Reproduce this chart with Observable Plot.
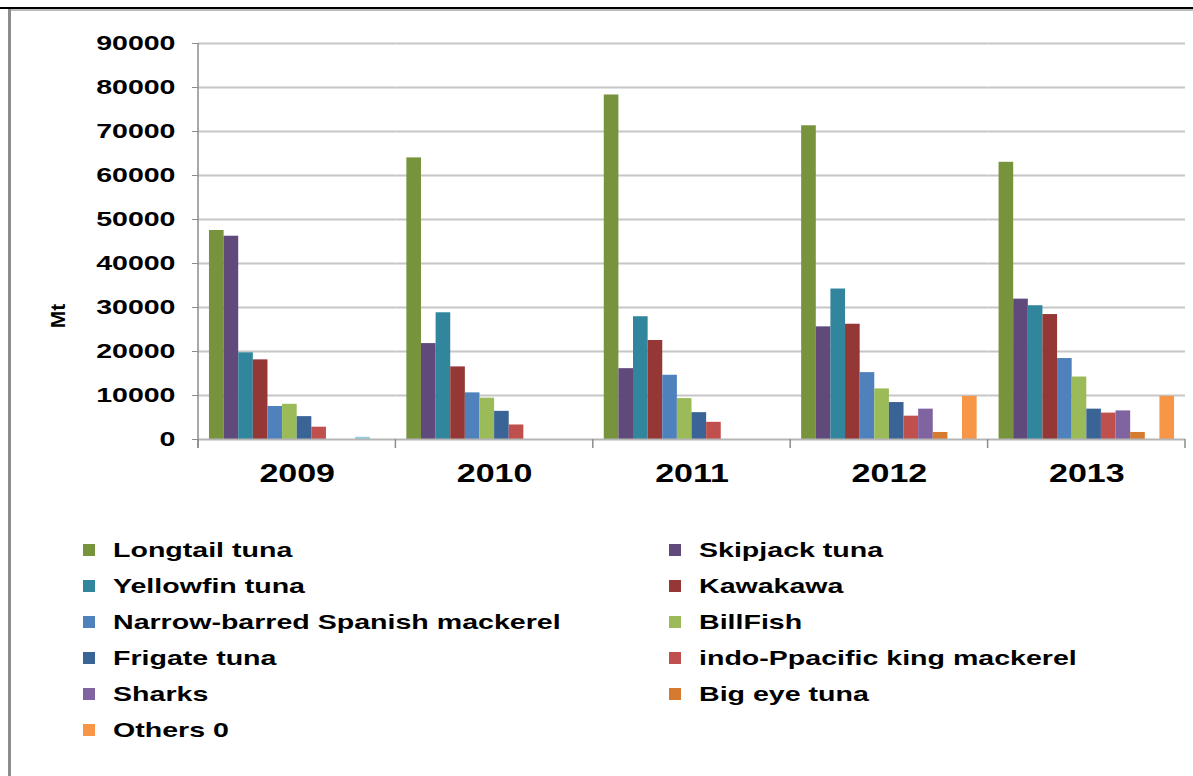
<!DOCTYPE html>
<html>
<head>
<meta charset="utf-8">
<script src="https://cdn.jsdelivr.net/npm/d3@7"></script>
<script src="https://cdn.jsdelivr.net/npm/@observablehq/plot@0.6"></script>
<style>
  html, body { margin: 0; padding: 0; background: #fff; }
  body { width: 1193px; height: 776px; overflow: hidden; position: relative;
         font-family: "Liberation Sans", Arial, sans-serif; }
  #chart { position: absolute; left: 0; top: 0; }
  .edge-top { position: absolute; left: 0; top: 7px; width: 1193px; height: 2px; background: #000; }
  .edge-shadow { position: absolute; left: 9px; top: 9px; width: 1184px; height: 2px; background: #bdbdbd; }
  .edge-left { position: absolute; left: 8px; top: 9px; width: 3px; height: 767px; background: #8c8c8c; }
  #legend { position: absolute; left: 83px; top: 532px; display: grid;
            grid-template-columns: 586px 420px; grid-auto-rows: 36px; }
  .item { display: flex; align-items: center; height: 36px; }
  .swatch { width: 12px; height: 12px; margin-right: 18px; flex: none; }
  .name { display: inline-block; font-weight: bold; font-size: 21px; color: #000;
          transform: scaleX(1.36); transform-origin: left center; white-space: nowrap; }
</style>
</head>
<body>
<div class="edge-top"></div>
<div class="edge-shadow"></div>
<div class="edge-left"></div>
<div id="chart"></div>
<div id="legend"></div>
<script>
// Catch by species and year (Mt)
const years = ["2009", "2010", "2011", "2012", "2013"];
const species = [
  "Longtail tuna", "Skipjack tuna", "Yellowfin tuna", "Kawakawa",
  "Narrow-barred Spanish mackerel", "BillFish", "Frigate tuna",
  "indo-Ppacific king mackerel", "Sharks", "Big eye tuna", "Unlisted", "Others 0"
];
const colors = [
  "#77933c", "#604a7b", "#31859c", "#953735",
  "#4f81bd", "#9bbb59", "#3b6496",
  "#c0504d", "#8064a2", "#d67a30", "#93cddd", "#f79646"
];
const longtailTuna   = [47500, 64000, 78300, 71300, 63000];
const skipjackTuna   = [46200, 21800, 16100, 25600, 31900];
const yellowfinTuna  = [19700, 28800, 27900, 34200, 30400];
const kawakawa       = [18100, 16500, 22500, 26200, 28400];
const spanishMackerel = [7500, 10600, 14600, 15200, 18400];
const billFish       = [8000, 9400, 9300, 11500, 14200];
const frigateTuna    = [5200, 6400, 6100, 8400, 6900];
const kingMackerel   = [2800, 3300, 3900, 5300, 6000];
const sharks         = [0, 0, 0, 6900, 6500];
const bigEyeTuna     = [0, 0, 0, 1600, 1600];
const unlisted       = [500, 0, 0, 0, 0];
const others         = [0, 0, 0, 9800, 9800];
const yTicks = [0, 10000, 20000, 30000, 40000, 50000, 60000, 70000, 80000, 90000];
// legend shows every named series, row by row in two columns
const legendOrder = species.filter(s => s !== "Unlisted");

const seriesValues = [
  longtailTuna, skipjackTuna, yellowfinTuna, kawakawa, spanishMackerel, billFish,
  frigateTuna, kingMackerel, sharks, bigEyeTuna, unlisted, others
];
const rows = [];
species.forEach((s, i) => years.forEach((y, j) => {
  const v = seriesValues[i][j];
  if (v > 0) rows.push({species: s, year: y, value: v});
}));

const font = "'Liberation Sans', Arial, sans-serif";
const plot = Plot.plot({
  width: 1193,
  height: 500,
  marginLeft: 198,
  marginRight: 8,
  marginTop: 43,
  marginBottom: 61,
  style: {fontFamily: font, background: "transparent", overflow: "visible", color: "#000"},
  fx: {domain: years, padding: 0, round: false, label: null},
  x: {domain: species, paddingInner: 0, paddingOuter: 0.75, round: false, axis: null},
  y: {domain: [0, 90000], label: null},
  color: {domain: species, range: colors},
  marks: [
    Plot.gridY(yTicks.filter(d => d > 0), {stroke: "#c6c6c6", strokeOpacity: 1, strokeWidth: 2}),
    Plot.barY(rows, {fx: "year", x: "species", y: "value", fill: "species", inset: 0}),
    Plot.ruleY([0], {stroke: "#b5b5b5", strokeWidth: 2}),
    Plot.axisY(yTicks, {
      tickSize: 6, tickPadding: 17, stroke: "#8c8c8c", fontSize: 21, fontWeight: "bold",
      tickFormat: d => String(d), label: null
    }),
    Plot.axisFx({anchor: "bottom", tickSize: 0, tickPadding: 25, fontSize: 25, fontWeight: "bold", label: null})
  ]
});
document.getElementById("chart").appendChild(plot);

// wide label glyphs: stretch each label about its own anchor point
const svg = d3.select(plot);
svg.selectAll('[aria-label="y-axis tick label"] text, [aria-label="fx-axis tick label"] text')
  .attr("transform", function() {
    const t = this.getAttribute("transform") || "";
    return `${t} scale(1.36,1)`;
  });

// category separators and the vertical value axis
const fx = plot.scale("fx");
const y = plot.scale("y");
const yTop = y.apply(90000), yBase = y.apply(0);
const edges = years.map(d => fx.apply(d)).concat([fx.apply(years[years.length - 1]) + fx.bandwidth]);
const g = svg.append("g").attr("stroke", "#8c8c8c").attr("stroke-width", 1.5);
g.selectAll("line.sep").data(edges).join("line")
  .attr("x1", d => d).attr("x2", d => d)
  .attr("y1", yBase).attr("y2", yBase + 9);
g.append("line")
  .attr("x1", edges[0]).attr("x2", edges[0])
  .attr("y1", yTop).attr("y2", yBase + 9);

// value axis title
svg.append("text")
  .attr("transform", `translate(58,${(yTop + yBase) / 2 + 75}) rotate(-90)`)
  .attr("text-anchor", "middle").attr("dy", "0.35em")
  .attr("font-size", 21).attr("font-weight", "bold").attr("fill", "#000")
  .text("Mt");

// legend
const legend = d3.select("#legend");
const items = legend.selectAll("div.item").data(legendOrder).join("div").attr("class", "item");
items.append("span").attr("class", "swatch")
  .style("background", d => plot.scale("color").apply(d));
items.append("span").attr("class", "name").text(d => d);
</script>
</body>
</html>
